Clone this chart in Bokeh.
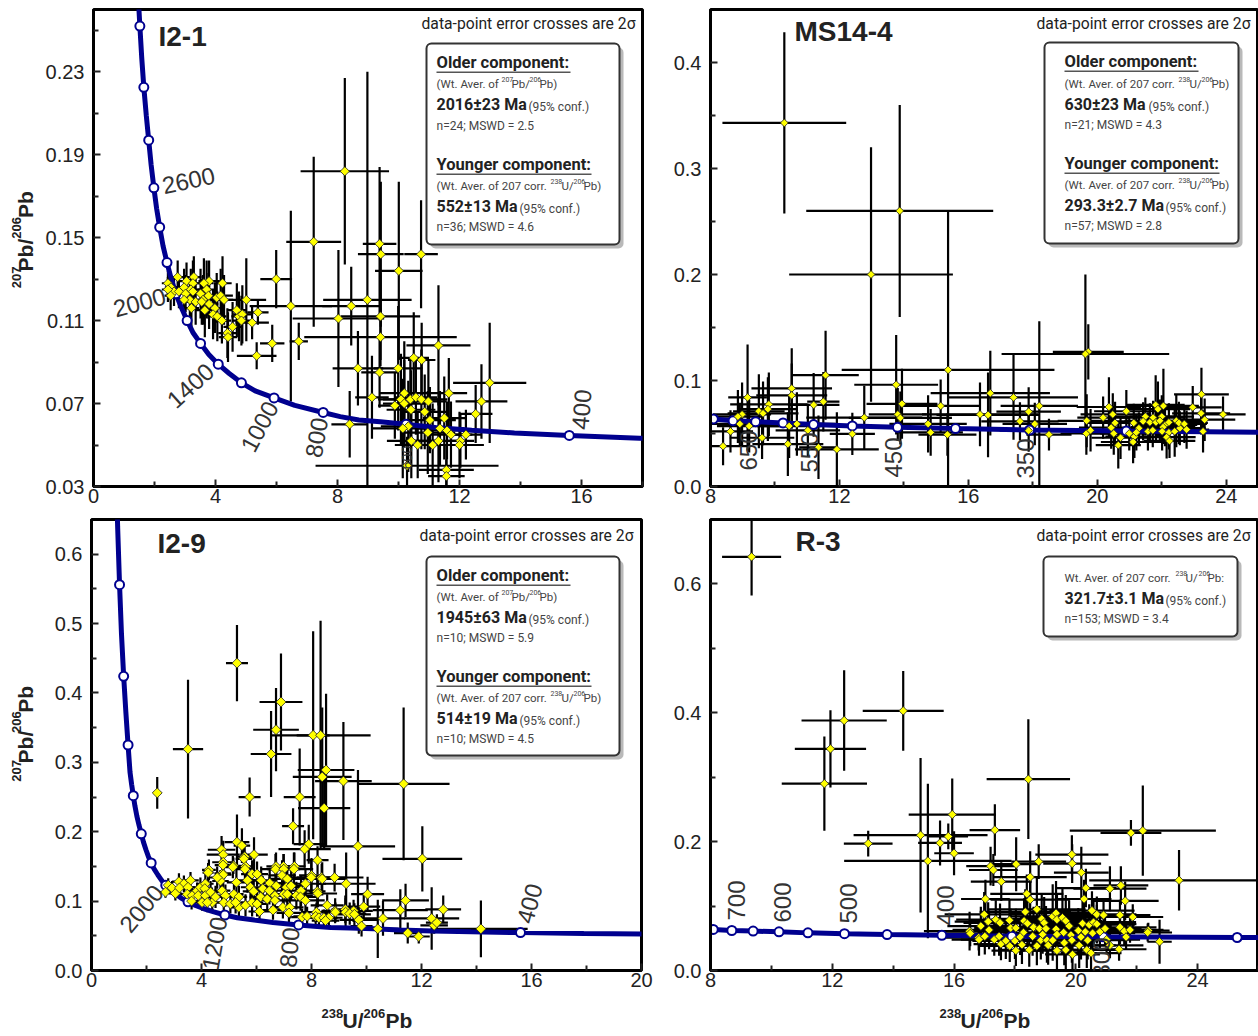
from bokeh.embed import file_html
from bokeh.resources import INLINE
from bokeh.plotting import figure
from bokeh.layouts import column, row
from bokeh.models import FixedTicker, NumeralTickFormatter, Label, BoxAnnotation, Range1d
import math

# ---------- concordia table ----------
curve_age = [200,250,300,350,400,450,500,550,600,650,700,750,800,900,1000,1100,1200,1300,1400,1500,1600,1700,1800,1900,2000,2100,2200,2300,2400,2500,2600,2700,2800,2900,3000,3100,3200,3300,3400,3600,3800,4000,4200,4400,4600,4700]
curve_x = [31.5,25.3,20.9,17.9,15.6,13.8,12.4,11.2,10.25,9.4,8.7,8.09,7.53,6.6,5.92,5.3,4.85,4.45,4.09,3.78,3.51,3.27,3.07,2.88,2.7,2.55,2.41,2.28,2.17,2.07,1.98,1.89,1.81,1.73,1.65,1.58,1.52,1.46,1.4,1.33,1.25,1.17,1.09,1.02,.95,.92]
curve_y = [.0498,.0512,.0523,.0533,.0546,.0558,.0571,.0584,.06,.0612,.0621,.0637,.0657,.0691,.0727,.0761,.08,.0845,.089,.0937,.099,.104,.11,.1163,.1229,.13,.138,.146,.155,.164,.174,.185,.197,.209,.2225,.237,.252,.268,.286,.325,.372,.424,.485,.556,.64,.69]

ticks_age_1 = [400,600,800,1000,1200,1400,1600,1800,2000,2200,2400,2600,2800,3000,3200]
ticks_age_2 = [300,350,400,450,500,550,600,650,700,750]
ticks_age_3 = [400,800,1200,1600,2000,2400,2800,3200,3600,4000,4400]
ticks_age_4 = [250,300,350,400,450,500,550,600,650,700,750]

# ---------- I2-1 ----------
x1 = [8.24,7.22,9.38,9.42,10.74,10.01,5.99,5.01,8.98,6.47,
      8.45,8.03,9.41,5.39,5.2,5.86,6.73,9.41,11.31,5.35,
      8.67,9.38,9.99,10.5,10.76,12.99,9.13,8.4,12.72,12.53,
      11.65,10.19,10.08,10.39,10.57,10.75,10.98,9.88,10.19,10.41,
      10.86,11.5,11.03,10.32,10.14,11.36,11.59,10.96,11.72,12.21,
      12.03,10.42,11.31,10.63,11.12,10.28,11.57,11.57,12.0,
      2.76,3.29,3.79,3.62,4.23,3.05,3.26,2.44,2.54,2.97,
      2.64,2.44,2.53,2.8,3.19,3.71,3.51,3.02,3.77,3.26,
      3.16,2.97,3.59,3.35,4.04,4.17,4.28,3.55,3.79,3.21,
      3.98,3.65,3.92,4.06,4.21,4.7,4.77,4.88,4.85,4.56,
      4.39,4.41]
y1 = [.182,.148,.147,.142,.142,.134,.130,.120,.120,.117,
      .117,.111,.112,.114,.109,.099,.1,.102,.098,.093,
      .087,.085,.087,.092,.091,.08,.073,.06,.071,.065,
      .075,.075,.072,.072,.073,.072,.071,.069,.07,.067,
      .066,.063,.062,.059,.058,.058,.057,.056,.055,.055,
      .052,.052,.052,.05,.05,.04,.038,.035,.05,
      .131,.131,.129,.128,.128,.129,.128,.128,.126,.126,
      .124,.125,.122,.124,.125,.125,.123,.123,.122,.124,
      .12,.12,.12,.119,.121,.122,.12,.119,.118,.116,
      .116,.115,.113,.112,.11,.115,.112,.113,.11,.107,
      .104,.102]
xe1 = [1.45,.9,.55,.75,.55,.78,.52,.65,1.45,1.35,
       .95,1.5,1.3,.35,.55,.4,.3,2.5,1.05,.65,
       .83,.6,.8,.5,.45,1.2,.55,.6,.85,.55,
       .6,.8,.75,.9,.7,.85,.6,.55,.7,.8,
       .75,.7,.85,.9,1.0,.8,.6,.9,.7,.5,
       .45,.8,.9,.75,.85,3.0,.9,.6,.8,
       .3,.25,.35,.3,.3,.25,.25,.2,.2,.3,
       .2,.2,.2,.25,.3,.3,.3,.25,.3,.25,
       .3,.25,.3,.3,.3,.4,.3,.3,.3,.25,
       .3,.3,.3,.3,.3,.3,.25,.3,.3,.3,
       .3,.3]
ye1 = [.045,.041,.037,.035,.026,.043,.014,.02,.11,.046,
       .019,.033,.021,.006,.008,.009,.009,.014,.029,.0065,
       .018,.017,.03,.022,.018,.029,.02,.016,.018,.014,
       .017,.025,.022,.02,.018,.024,.02,.016,.021,.019,
       .018,.02,.016,.022,.024,.018,.014,.02,.016,.012,
       .013,.018,.02,.016,.02,.014,.012,.008,.016,
       .008,.01,.01,.012,.013,.009,.011,.006,.006,.009,
       .007,.006,.007,.008,.01,.014,.012,.009,.011,.009,
       .01,.009,.012,.011,.012,.013,.012,.011,.012,.009,
       .012,.013,.012,.012,.011,.013,.012,.014,.012,.012,
       .012,.012]

# ---------- MS14-4 ----------
x2 = [10.29,13.87,12.98,15.37,19.72,19.63,11.57,13.76,10.52,10.52,
      9.15,16.68,17.4,18.2,17.87,23.23,22.96,23.9,23.22,23.33,
      23.28,17.6,17.87,18.06,18.5,
      11.2,11.5,9.81,9.78,9.5,9.63,8.98,8.85,8.91,9.2,
      8.62,8.39,10.44,10.68,11.02,9.6,10.4,11.35,11.92,12.4,
      12.77,13.81,13.94,13.89,14.75,14.83,15.14,15.35,16.36,16.61,
      19.67,19.66,19.79,20.36,20.18,20.48,20.55,20.43,20.51,20.72,
      20.65,20.9,21.13,20.99,21.15,21.11,21.29,21.21,21.49,21.42,
      21.63,21.73,21.57,21.72,21.82,21.81,21.88,22.05,22.0,21.94,
      22.1,22.22,22.04,22.01,22.22,22.15,22.24,22.45,22.4,22.56,
      22.53,22.7,22.77]
y2 = [.343,.26,.2,.11,.127,.125,.105,.096,.0925,.086,
      .084,.088,.084,.076,.0706,.087,.0747,.068,.069,.063,
      .052,.0615,.0527,.059,.049,
      .077,.08,.0775,.073,.071,.069,.068,.066,.059,.057,
      .052,.038,.057,.059,.053,.046,.04,.037,.035,.0496,
      .065,.068,.078,.0647,.059,.051,.076,.049,.068,.0675,
      .062,.05,.053,.075,.065,.068,.06,.0555,.05,.046,
      .039,.071,.06,.05,.047,.042,.055,.051,.066,.0615,
      .0605,.065,.052,.053,.0605,.077,.073,.076,.066,.062,
      .058,.0605,.056,.052,.051,.0465,.043,.062,.052,.055,
      .06,.059,.0537]
xe2 = [1.92,2.9,2.54,3.3,1.1,2.6,1.03,1.3,1.25,1.1,
       .6,1.85,2.0,1.2,1.0,.85,.9,.7,.9,.95,
       .9,1.2,.9,1.0,.7,
       .8,.5,1.2,.9,.8,1.1,.9,.8,.9,1.0,
       .7,.8,1.0,1.2,1.0,1.0,1.1,.6,1.3,.7,
       1.8,.9,1.1,1.6,1.2,1.0,1.2,.9,1.8,1.6,
       .9,.8,1.0,1.0,.8,1.0,.9,1.0,1.0,.9,
       .7,1.0,1.0,.9,.9,1.0,.8,1.0,1.0,1.0,
       1.1,1.0,.9,.9,1.0,.9,1.0,1.1,1.0,1.1,
       1.0,1.1,1.0,1.1,1.0,.9,.8,.9,1.0,.8,
       .9,.7,.7]
ye2 = [.0855,.1,.12,.15,.026,.075,.042,.047,.038,.03,
       .05,.04,.04,.08,.023,.025,.02,.017,.02,.02,
       .02,.018,.02,.02,.015,
       .03,.028,.03,.03,.035,.03,.03,.025,.02,.025,
       .02,.018,.03,.03,.025,.02,.03,.03,.035,.02,
       .03,.025,.033,.025,.027,.022,.025,.02,.03,.04,
       .025,.02,.02,.028,.02,.02,.02,.02,.02,.02,
       .022,.02,.018,.016,.02,.02,.015,.017,.018,.018,
       .018,.016,.018,.016,.018,.028,.026,.035,.02,.02,
       .02,.018,.016,.018,.016,.02,.016,.025,.024,.016,
       .02,.018,.018]

# ---------- I2-9 ----------
x3 = [5.29,3.51,6.89,6.71,6.53,2.39,5.75,8.06,8.33,8.53,
      8.39,9.16,7.57,8.46,11.35,7.33,9.69,12.03,7.9,7.75,
      5.29,5.47,4.73,4.79,5.91,5.57,4.79,8.22,7.38,6.98,
      6.71,5.16,5.6,4.27,4.77,8.0,8.37,8.84,9.26,10.04,
      8.21,9.9,11.42,11.23,12.79,12.37,12.46,12.56,10.6,9.72,
      9.82,10.41,11.5,11.9,14.16,9.23,9.53,8.86,
      2.79,2.69,2.93,3.05,3.18,3.36,3.2,3.6,3.51,3.48,
      3.66,3.64,3.84,3.88,3.96,4.14,4.12,4.14,4.02,4.33,
      4.39,4.21,4.24,4.51,4.75,4.79,4.69,4.57,4.87,4.81,
      5.05,5.18,5.27,5.14,4.78,5.54,5.58,5.84,6.02,5.67,
      5.78,5.9,5.36,5.36,5.24,5.6,5.84,6.02,6.11,6.17,
      6.23,6.15,6.39,6.48,6.47,6.69,6.72,6.67,6.67,6.6,
      6.99,6.93,7.12,7.09,6.99,7.12,6.96,7.21,7.18,7.36,
      7.26,7.45,7.62,7.6,7.78,7.78,7.99,8.39,8.23,7.66,
      7.84,8.18,8.15,8.27,8.45,8.57,8.63,8.87,8.51,9.24,
      9.39,9.56]
y3 = [.443,.319,.387,.347,.312,.256,.25,.339,.339,.289,
      .279,.273,.25,.234,.269,.208,.179,.161,.182,.175,
      .185,.18,.174,.167,.167,.164,.156,.159,.15,.15,
      .15,.151,.15,.145,.14,.137,.134,.134,.125,.11,
      .114,.092,.101,.087,.088,.075,.065,.069,.075,.073,
      .064,.06,.054,.049,.06,.088,.086,.086,
      .123,.113,.119,.111,.128,.125,.119,.13,.12,.11,
      .108,.1,.115,.108,.12,.125,.118,.108,.098,.113,
      .098,.098,.141,.106,.115,.138,.129,.134,.108,.098,
      .096,.11,.127,.149,.152,.161,.146,.139,.139,.13,
      .12,.114,.106,.091,.098,.094,.098,.096,.085,.13,
      .118,.106,.103,.126,.115,.146,.122,.108,.101,.087,
      .146,.137,.132,.12,.11,.11,.091,.091,.083,.146,
      .122,.108,.115,.106,.125,.101,.134,.132,.111,.077,
      .078,.084,.078,.076,.076,.094,.076,.084,.072,.084,
      .082,.081]
xe3 = [.4,.55,.78,.83,.74,.15,.4,.6,1.82,1.03,
       1.07,1.03,.58,.95,1.67,.4,1.35,1.45,.55,.95,
       .45,.3,.5,.6,.5,.3,.4,.4,.4,.3,
       .35,.3,.3,.25,.3,.45,.9,1.05,1.07,.6,
       .3,.6,.85,1.0,.65,1.0,.5,.4,.8,.7,
       .4,.75,.5,.4,1.7,.5,.7,.5,
       .2,.2,.25,.25,.25,.25,.25,.3,.25,.25,
       .3,.25,.3,.3,.3,.3,.3,.3,.3,.3,
       .3,.3,.2,.3,.3,.3,.3,.3,.35,.3,
       .3,.35,.35,.4,.3,.3,.35,.4,.4,.35,
       .35,.4,.3,.3,.3,.35,.4,.35,.4,.5,
       .45,.4,.45,.5,.5,.5,.5,.45,.45,.4,
       .6,.5,.6,.5,.5,.55,.45,.5,.45,.7,
       .6,.6,.7,.6,.75,.7,.8,.9,.7,.4,
       .5,.5,.5,.55,.5,.6,.5,.6,.5,.55,
       .6,.6]
ye3 = [.055,.1,.07,.06,.062,.023,.028,.15,.165,.11,
       .1,.085,.07,.06,.11,.026,.11,.047,.028,.027,
       .04,.025,.02,.02,.025,.02,.015,.02,.02,.018,
       .02,.012,.02,.015,.015,.025,.02,.02,.045,.025,
       .02,.02,.024,.03,.02,.045,.012,.012,.025,.02,
       .015,.042,.015,.01,.041,.02,.016,.018,
       .01,.008,.01,.01,.012,.012,.012,.012,.012,.012,
       .012,.012,.012,.014,.014,.014,.014,.014,.012,.016,
       .014,.014,.014,.016,.018,.018,.016,.016,.016,.016,
       .014,.018,.018,.016,.018,.02,.018,.02,.018,.018,
       .018,.018,.016,.014,.016,.016,.02,.018,.014,.02,
       .018,.018,.018,.022,.02,.022,.022,.018,.018,.014,
       .022,.022,.02,.022,.02,.02,.016,.016,.014,.024,
       .022,.02,.022,.02,.022,.02,.024,.024,.02,.012,
       .014,.014,.014,.012,.012,.016,.012,.014,.012,.02,
       .016,.016]

# ---------- R-3 ----------
x4 = [9.35,14.33,12.39,11.94,11.74,18.44,14.9,15.94,13.18,15.81,
      15.54,16.0,15.14,17.34,22.2,21.81,19.87,19.88,18.78,18.04,
      17.2,17.29,20.18,18.5,17.55,23.39,21.12,21.48,20.33,21.62,
      20.27,17.03,18.39,18.5,22.38,22.75,16.51,16.81,
      16.53,16.82,16.88,17.01,17.15,17.12,16.99,17.32,17.48,17.37,
      17.51,17.54,17.7,17.83,17.82,17.86,18.0,18.03,18.28,18.17,
      18.03,18.23,18.34,18.3,18.41,18.58,18.61,18.47,18.72,18.72,
      18.8,18.85,18.88,18.96,19.02,18.91,19.05,19.09,19.24,19.35,
      19.38,19.35,19.38,19.24,19.38,19.56,19.67,19.6,19.67,19.62,
      19.84,19.78,19.87,19.89,20.08,20.17,20.11,20.22,20.31,20.39,
      20.36,20.44,20.58,20.55,20.69,20.79,20.96,20.5,20.53,20.69,
      20.91,21.01,21.12,21.42,21.45,21.45,21.59,21.78,21.65,21.87,
      22.36]
y4 = [.642,.403,.388,.344,.29,.297,.21,.242,.197,.208,
      .198,.182,.17,.218,.217,.2135,.18,.166,.169,.165,
      .162,.156,.152,.145,.138,.14,.127,.132,.128,.108,
      .111,.111,.119,.11,.062,.0446,.061,.051,
      .0575,.048,.069,.053,.063,.076,.087,.048,.053,.079,
      .074,.041,.046,.038,.078,.066,.046,.066,.059,.052,
      .031,.04,.091,.077,.073,.053,.067,.032,.095,.038,
      .065,.047,.08,.074,.065,.056,.047,.039,.084,.089,
      .079,.064,.056,.047,.031,.082,.077,.059,.032,.043,
      .055,.069,.047,.025,.062,.052,.039,.073,.06,.047,
      .032,.071,.075,.058,.072,.06,.065,.027,.093,.087,
      .086,.048,.039,.033,.067,.086,.061,.063,.052,.083,
      .059]
xe4 = [.97,1.33,1.4,1.17,1.4,1.37,2.2,1.43,.8,.65,
       .72,.65,2.75,.83,2.4,1.0,1.2,.95,.9,.8,
       .8,.8,.9,1.2,1.0,2.95,1.2,.9,1.0,1.1,
       .9,.8,1.2,1.3,.7,.4,1.5,1.3,
       .8,.9,1.1,1.0,1.2,1.1,1.3,1.1,1.2,1.3,
       1.2,.9,1.1,1.0,1.3,1.2,1.0,1.3,1.2,1.1,
       .8,1.0,1.5,1.2,1.4,1.3,1.2,.9,1.6,1.0,
       1.2,1.1,1.4,1.3,1.2,1.3,1.1,1.0,1.4,1.5,
       1.3,1.2,1.3,1.1,.9,1.4,1.2,1.3,.9,1.0,
       1.3,1.4,1.2,.9,1.4,1.3,1.2,1.5,1.4,1.3,
       1.0,1.5,1.4,1.4,1.3,1.4,1.2,1.0,1.4,1.3,
       1.2,1.1,1.1,.9,1.2,1.0,1.2,1.1,1.0,1.0,
       .8]
ye4 = [.06,.062,.078,.06,.073,.093,.12,.056,.02,.02,
       .035,.034,.12,.04,.07,.02,.03,.03,.027,.042,
       .03,.025,.04,.04,.03,.047,.035,.03,.03,.03,
       .03,.03,.03,.028,.012,.034,.03,.02,
       .02,.025,.03,.028,.03,.03,.035,.025,.03,.03,
       .03,.025,.028,.025,.032,.03,.028,.03,.03,.028,
       .024,.03,.035,.035,.035,.03,.032,.026,.05,.03,
       .035,.03,.04,.04,.035,.03,.035,.03,.05,.05,
       .04,.035,.035,.032,.03,.045,.04,.035,.03,.035,
       .035,.04,.035,.028,.035,.035,.035,.035,.032,.03,
       .028,.032,.032,.03,.03,.028,.025,.025,.03,.028,
       .026,.02,.02,.018,.026,.024,.022,.02,.02,.02,
       .014]

# ---------- labels ----------
titles = ["I2-1", "MS14-4", "I2-9", "R-3"]
note = "data-point error crosses are 2\u03c3"
age_labels_1 = ["2600","2000","1400","1000","800","600","400"]
age_labels_2 = ["650","550","450","350"]
age_labels_3 = ["2000","1200","800","400"]
age_labels_4 = ["700","600","500","400","300"]

NARROW = "Roboto"
SANS = "Liberation Sans"
BLUE = "#00008f"
TXT = "#222222"
GREY = "#444444"

frames = {}

def make(n, fw, fh, ml, mr, mt, mb, left, top, xr, yr, xs, xm, ys, ym, yfmt, xd, yd, xe, ye, ages, msize):
    p = figure(frame_width=fw, frame_height=fh, min_border_left=ml, min_border_right=mr,
               min_border_top=mt, min_border_bottom=mb, x_range=Range1d(*xr), y_range=Range1d(*yr),
               output_backend="svg", toolbar_location=None, background_fill_color="white")
    frames[n] = (left, left + fw, top, top + fh, xr[0], xr[1], yr[0], yr[1])
    p.grid.visible = False
    p.outline_line_color = "black"
    p.outline_line_width = 3
    for ax, t, m in ((p.xaxis[0], xs, xm), (p.yaxis[0], ys, ym)):
        ax.ticker = FixedTicker(ticks=t, minor_ticks=m)
        ax.major_tick_in = 7; ax.major_tick_out = 0
        ax.minor_tick_in = 5; ax.minor_tick_out = 0
        ax.major_tick_line_width = 2; ax.minor_tick_line_width = 2
        ax.major_tick_line_color = "#222222"; ax.minor_tick_line_color = "#222222"
        ax.axis_line_width = 3
        ax.major_label_text_font = SANS
        ax.major_label_text_font_size = "20px"
        ax.major_label_text_color = "#222222"
    p.xaxis[0].major_label_standoff = 2
    p.yaxis[0].major_label_standoff = 9
    p.xaxis[0].formatter = NumeralTickFormatter(format="0")
    p.yaxis[0].formatter = NumeralTickFormatter(format=yfmt)
    p.segment([a - b for a, b in zip(xd, xe)], yd, [a + b for a, b in zip(xd, xe)], yd, line_color="black", line_width=2.2)
    p.segment(xd, [a - b for a, b in zip(yd, ye)], xd, [a + b for a, b in zip(yd, ye)], line_color="black", line_width=2.2)
    p.line(curve_x, curve_y, line_color=BLUE, line_width=5)
    mx = [cx for a, cx in zip(curve_age, curve_x) if a in ages]
    my = [cy for a, cy in zip(curve_age, curve_y) if a in ages]
    p.scatter(mx, my, marker="circle", size=9, fill_color="white", line_color=BLUE, line_width=2)
    p.scatter(xd, yd, marker="square", angle=math.pi / 4, size=msize, fill_color="#ffff00", line_color="#222222", line_width=0.8)
    return p

def strip(n, left, top, w, h):
    # a bare figure whose data coordinates are the picture's pixels, for the axis titles
    p = figure(width=w, height=h, min_border=0, x_range=Range1d(left, left + w), y_range=Range1d(top + h, top),
               x_axis_type=None, y_axis_type=None, output_backend="svg", toolbar_location=None)
    p.outline_line_color = None
    p.grid.visible = False
    frames[n] = (left, left + w, top, top + h, left, left + w, top + h, top)
    return p

def dx(n, px):
    L, R, T, B, x0, x1_, y0, y1_ = frames[n]
    return x0 + (px - L) / (R - L) * (x1_ - x0)

def dy(n, py):
    L, R, T, B, x0, x1_, y0, y1_ = frames[n]
    return y0 + (B - py) / (B - T) * (y1_ - y0)

def lab(p, n, px, py, s, size=13, bold=False, color=TXT, font=NARROW, angle=0, align="left", base="middle"):
    p.add_layout(Label(x=dx(n, px), y=dy(n, py), text=s, text_font=font, text_font_size=f"{size}px",
                       text_font_style="bold" if bold else "normal", text_color=color,
                       angle=angle, angle_units="deg", text_align=align, text_baseline=base))

def rect(p, n, l, t, r, b, fill, line=None, lw=0, alpha=1.0, radius=0):
    p.add_layout(BoxAnnotation(left=dx(n, l), right=dx(n, r), top=dy(n, t), bottom=dy(n, b),
                               fill_color=fill, fill_alpha=alpha, line_color=line, line_width=lw,
                               line_alpha=1.0 if line else 0, border_radius=radius))

def box(p, n, l, t, r, b):
    rect(p, n, l + 4, t + 4, r + 4, b + 4, "#8a8a8a", alpha=0.6, radius=5)
    rect(p, n, l, t, r, b, "white", line="#333333", lw=2, radius=5)

def head(p, n, x, y, s, w):
    lab(p, n, x, y, s, size=16.5, bold=True, color=TXT)
    rect(p, n, x, y + 9, x + w, y + 10.5, "#555555")

def src_pb(p, n, x, y):
    lab(p, n, x, y, "(Wt. Aver. of ", size=11.5, color=GREY)
    lab(p, n, x + 65, y - 4, "207", size=7, color=GREY)
    lab(p, n, x + 75, y, "Pb/", size=11.5, color=GREY)
    lab(p, n, x + 93, y - 4, "206", size=7, color=GREY)
    lab(p, n, x + 103, y, "Pb)", size=11.5, color=GREY)

def src_u(p, n, x, y):
    lab(p, n, x, y, "(Wt. Aver. of 207 corr. ", size=11.5, color=GREY)
    lab(p, n, x + 114, y - 4, "238", size=7, color=GREY)
    lab(p, n, x + 125, y, "U/", size=11.5, color=GREY)
    lab(p, n, x + 137, y - 4, "206", size=7, color=GREY)
    lab(p, n, x + 147, y, "Pb)", size=11.5, color=GREY)

def age(p, n, x, y, s, off):
    lab(p, n, x, y, s, size=16, bold=True, color=TXT)
    lab(p, n, x + off, y + 2, "(95% conf.)", size=12, color=GREY)

def stat(p, n, x, y, s):
    lab(p, n, x, y, s, size=12, color=GREY)

def ylabel(p, n, yy):
    a, b, c, d = yy
    lab(p, n, 16, a, "207", size=13, bold=True, font=SANS, angle=90)
    lab(p, n, 25, b, "Pb/", size=21, bold=True, font=SANS, angle=90)
    lab(p, n, 16, c, "206", size=13, bold=True, font=SANS, angle=90)
    lab(p, n, 25, d, "Pb", size=21, bold=True, font=SANS, angle=90)

def xlabel(p, n, x):
    lab(p, n, x, 1013, "238", size=13, bold=True, font=SANS)
    lab(p, n, x + 21, 1020, "U/", size=21, bold=True, font=SANS)
    lab(p, n, x + 42, 1013, "206", size=13, bold=True, font=SANS)
    lab(p, n, x + 64, 1020, "Pb", size=21, bold=True, font=SANS)

p1 = make(1, 549, 477, 53, 13, 9, 24, 93, 9, (0, 18), (.03, .26), [0, 4, 8, 12, 16], [2, 6, 10, 14, 18],
          [.03, .07, .11, .15, .19, .23], [.05, .09, .13, .17, .21, .25], "0.00", x1, y1, xe1, ye1, ticks_age_1, 6.5)
p2 = make(2, 548, 477, 55, 0, 9, 24, 710, 9, (8, 25), (0, .45), [8, 12, 16, 20, 24], [10, 14, 18, 22],
          [0, .1, .2, .3, .4], [.05, .15, .25, .35], "0.0", x2, y2, xe2, ye2, ticks_age_2, 5.5)
p3 = make(3, 550, 451, 51, 14, 9, 30, 91, 519, (0, 20), (0, .65), [0, 4, 8, 12, 16, 20], [2, 6, 10, 14, 18],
          [0, .1, .2, .3, .4, .5, .6], [.05, .15, .25, .35, .45, .55], "0.0", x3, y3, xe3, ye3, ticks_age_3, 7)
p4 = make(4, 548, 451, 55, 0, 9, 30, 710, 519, (8, 26), (0, .7), [8, 12, 16, 20, 24], [10, 14, 18, 22, 26],
          [0, .2, .4, .6], [.1, .3, .5], "0.0", x4, y4, xe4, ye4, ticks_age_4, 6)

s1 = strip(5, 0, 0, 40, 510)
s3 = strip(6, 0, 510, 40, 490)
s5 = strip(7, 0, 1000, 1258, 36)

# age labels on the curve
for s, px, py, ang in zip(age_labels_1, [188, 139, 190, 259, 316, 406, 581], [180, 302, 385, 426, 437, 457, 409], [12, 15, 42, 62, 80, 90, 85]):
    lab(p1, 1, px, py, s, size=14 if s == "600" else 24, color="#333333", font=SANS, angle=ang, align="center")
for s, px, py in zip(age_labels_2, [748, 809, 893, 1025], [450, 452, 457, 458]):
    lab(p2, 2, px, py, s, size=24, color="#333333", font=SANS, angle=90, align="center")
for s, px, py, ang in zip(age_labels_3, [141, 214, 289, 529], [908, 943, 947, 903], [50, 80, 85, 75]):
    lab(p3, 3, px, py, s, size=24, color="#333333", font=SANS, angle=ang, align="center")
for s, px, py in zip(age_labels_4, [736, 782, 848, 945, 1101], [900, 902, 903, 905, 957]):
    lab(p4, 4, px, py, s, size=24, color="#333333", font=SANS, angle=90, align="center")

# titles and notes
lab(p1, 1, 158, 36, titles[0], size=28, bold=True, font=SANS)
lab(p2, 2, 794, 31, titles[1], size=28, bold=True, font=SANS)
lab(p3, 3, 157, 543, titles[2], size=28, bold=True, font=SANS)
lab(p4, 4, 795, 541, titles[3], size=28, bold=True, font=SANS)
lab(p1, 1, 421, 23, note, size=15.7)
lab(p2, 2, 1036, 23, note, size=15.7)
lab(p3, 3, 419, 535, note, size=15.7)
lab(p4, 4, 1036, 535, note, size=15.7)

# info boxes
box(p1, 1, 426, 43, 619, 244)
head(p1, 1, 436, 62, "Older component:", 134); src_pb(p1, 1, 436, 83); age(p1, 1, 436, 104, "2016\u00b123 Ma", 92); stat(p1, 1, 436, 125, "n=24; MSWD = 2.5")
head(p1, 1, 436, 164, "Younger component:", 155); src_u(p1, 1, 436, 185); age(p1, 1, 436, 206, "552\u00b113 Ma", 83); stat(p1, 1, 436, 226, "n=36; MSWD = 4.6")

box(p2, 2, 1044, 42, 1238, 243)
head(p2, 2, 1064, 61, "Older component:", 134); src_u(p2, 2, 1064, 83); age(p2, 2, 1064, 104, "630\u00b123 Ma", 84); stat(p2, 2, 1064, 124, "n=21; MSWD = 4.3")
head(p2, 2, 1064, 163, "Younger component:", 155); src_u(p2, 2, 1064, 184); age(p2, 2, 1064, 205, "293.3\u00b12.7 Ma", 101); stat(p2, 2, 1064, 225, "n=57; MSWD = 2.8")

box(p3, 3, 426, 556, 619, 755)
head(p3, 3, 436, 575, "Older component:", 134); src_pb(p3, 3, 436, 596); age(p3, 3, 436, 617, "1945\u00b163 Ma", 92); stat(p3, 3, 436, 637, "n=10; MSWD = 5.9")
head(p3, 3, 436, 676, "Younger component:", 155); src_u(p3, 3, 436, 697); age(p3, 3, 436, 718, "514\u00b119 Ma", 83); stat(p3, 3, 436, 738, "n=10; MSWD = 4.5")

box(p4, 4, 1043, 556, 1237, 636)
lab(p4, 4, 1064, 577, "Wt. Aver. of 207 corr. ", size=11.5, color=GREY)
lab(p4, 4, 1175, 573, "238", size=7, color=GREY)
lab(p4, 4, 1185, 577, "U/", size=11.5, color=GREY)
lab(p4, 4, 1198, 573, "206", size=7, color=GREY)
lab(p4, 4, 1207, 577, "Pb:", size=11.5, color=GREY)
age(p4, 4, 1064, 598, "321.7\u00b13.1 Ma", 101)
stat(p4, 4, 1064, 618, "n=153; MSWD = 3.4")

# axis titles
ylabel(s1, 5, (298, 280, 245, 223))
ylabel(s3, 6, (795, 775, 742, 720))
xlabel(s5, 7, 321)
xlabel(s5, 7, 939)

layout = column(row(s1, p1, p2, spacing=0), row(s3, p3, p4, spacing=0), s5, spacing=0)
open("out.html", "w").write(file_html(layout, INLINE))
